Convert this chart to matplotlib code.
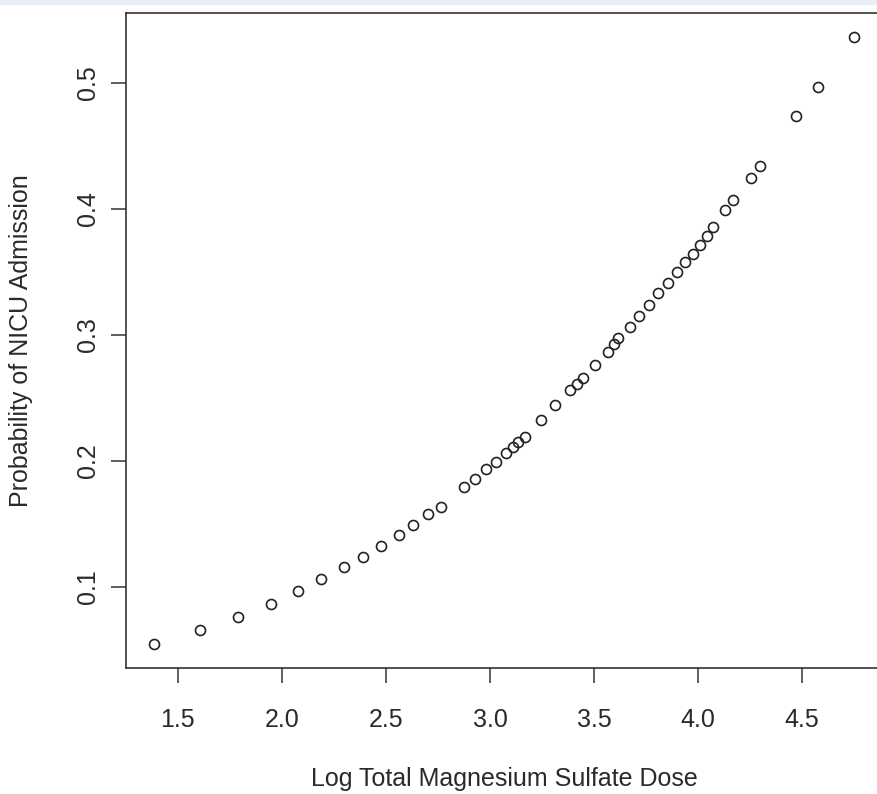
import numpy as np
import matplotlib.pyplot as plt
from matplotlib.patches import Rectangle

plt.rcParams['font.family'] = ['Liberation Sans', 'DejaVu Sans']

# log dose and fitted probability
log_dose = [1.385, 1.608, 1.787, 1.946, 2.078, 2.186, 2.298, 2.388, 2.476, 2.561,
            2.628, 2.703, 2.767, 2.873, 2.930, 2.981, 3.031, 3.077, 3.113, 3.137,
            3.168, 3.245, 3.315, 3.385, 3.418, 3.447, 3.505, 3.567, 3.594, 3.615,
            3.671, 3.716, 3.764, 3.808, 3.856, 3.899, 3.938, 3.976, 4.010, 4.043,
            4.072, 4.130, 4.168, 4.255, 4.298, 4.471, 4.577, 4.750]
prob_nicu = [0.0548, 0.0663, 0.0764, 0.0865, 0.0971, 0.1061, 0.1161, 0.1240, 0.1325, 0.1410,
             0.1490, 0.1577, 0.1637, 0.1794, 0.1857, 0.1937, 0.1992, 0.2060, 0.2115, 0.2155,
             0.2190, 0.2329, 0.2444, 0.2563, 0.2611, 0.2659, 0.2766, 0.2869, 0.2929, 0.2976,
             0.3060, 0.3147, 0.3238, 0.3333, 0.3413, 0.3500, 0.3579, 0.3643, 0.3714, 0.3786,
             0.3857, 0.3992, 0.4071, 0.4246, 0.4341, 0.4738, 0.4968, 0.5365]
x_ticks = [1.5, 2.0, 2.5, 3.0, 3.5, 4.0, 4.5]
y_ticks = [0.1, 0.2, 0.3, 0.4, 0.5]

W, H = 877, 794
fig = plt.figure(figsize=(W/100, H/100), dpi=100)
fig.patches.append(Rectangle((0, 1-4/H), 1, 4/H, transform=fig.transFigure,
                             color='#e9eef4', zorder=0))
ax = fig.add_axes([126/W, (H-668.3)/H, (882-126)/W, (668.3-12.7)/H])

ax.plot(log_dose, prob_nicu, ls='none', marker='o', ms=7.2, mfc='none',
        mec='#222222', mew=1.2)

# R style 4% padding
xr = max(log_dose)-min(log_dose)
yr = max(prob_nicu)-min(prob_nicu)
ax.set_xlim(min(log_dose)-0.04*xr, max(log_dose)+0.04*xr)
ax.set_ylim(min(prob_nicu)-0.04*yr, max(prob_nicu)+0.04*yr)

ax.set_xticks(x_ticks)
ax.set_xticklabels([f'{v:.1f}' for v in x_ticks])
ax.set_yticks(y_ticks)
ax.set_yticklabels([f'{v:.1f}' for v in y_ticks], rotation=90, va='center')
ax.tick_params(axis='both', direction='out', length=10.5, width=1.1,
               color='#333333', labelsize=18, labelcolor='#2a2a2a')
ax.tick_params(axis='x', pad=18)
ax.tick_params(axis='y', pad=8)
for s in ax.spines.values():
    s.set_linewidth(1.2)
    s.set_color('#333333')

ax.set_xlabel('Log Total Magnesium Sulfate Dose', fontsize=18, color='#2a2a2a', labelpad=25)
ax.set_ylabel('Probability of NICU Admission', fontsize=18, color='#2a2a2a', labelpad=31)

fig.savefig('out.png', dpi=100)
